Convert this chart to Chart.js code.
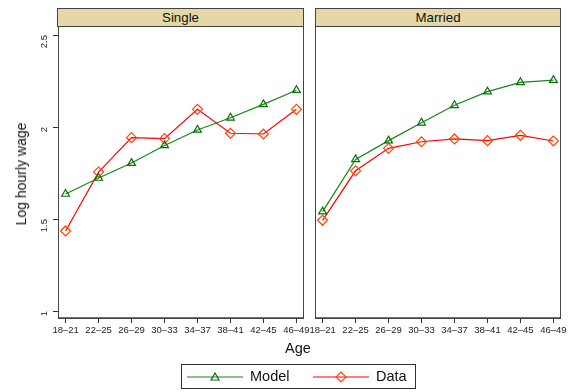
<!DOCTYPE html>
<html>
<head>
<meta charset="utf-8">
<script src="https://cdn.jsdelivr.net/npm/chart.js@4"></script>
<style>
  body { margin: 0; background: #fff; font-family: "Liberation Sans", Arial, sans-serif; }
  #wrap { position: relative; width: 574px; height: 392px; overflow: hidden; }
  canvas { position: absolute; }
  .header {
    position: absolute; top: 8px; height: 17px;
    background: #e3d8a6; border: 1px solid #444;
    text-align: center; font-size: 13.3px; line-height: 17px; color: #111;
  }
  .ytitle {
    position: absolute; left: 21px; top: 174px; font-size: 14px; color: #111;
    transform: translate(-50%, -50%) rotate(-90deg); white-space: nowrap;
  }
  .xtitle { position: absolute; left: 298px; top: 348px; font-size: 14.5px; color: #111; transform: translate(-50%, -50%); }
  .legend {
    position: absolute; left: 181px; top: 364px; width: 235px; height: 25px;
    border: 1px solid #333; box-sizing: border-box; font-size: 14.5px; color: #111;
  }
  .legend svg { position: absolute; top: 5px; }
  .legend span { position: absolute; top: 3px; }
</style>
</head>
<body>
<div id="wrap">
  <canvas id="singleChart" width="316" height="345" style="left:0;top:0;width:316px;height:345px"></canvas>
  <canvas id="marriedChart" width="274" height="345" style="left:300px;top:0;width:274px;height:345px"></canvas>
  <div class="header" style="left:57px;width:245px">Single</div>
  <div class="header" style="left:315px;width:244px">Married</div>
  <div class="ytitle">Log hourly wage</div>
  <div class="xtitle">Age</div>
  <div class="legend">
    <svg width="56" height="14" style="left:5px"><line x1="0" y1="7" x2="56" y2="7" stroke="#138a13" stroke-width="1.2"/><polygon points="28,3 32,10 24,10" fill="none" stroke="#0b6e0b" stroke-width="1.2"/></svg>
    <span style="left:68px">Model</span>
    <svg width="56" height="14" style="left:131px"><line x1="0" y1="7" x2="56" y2="7" stroke="#ff0000" stroke-width="1.2"/><polygon points="28,2 33,7 28,12 23,7" fill="none" stroke="#ff4500" stroke-width="1.2"/></svg>
    <span style="left:194px">Data</span>
  </div>
</div>
<script>
// Age groups on the x axis
const ageGroups = ['18–21', '22–25', '26–29', '30–33', '34–37', '38–41', '42–45', '46–49'];

// Log hourly wage, single
const singleModel = [1.636, 1.723, 1.804, 1.900, 1.984, 2.050, 2.123, 2.200];
const singleData = [1.435, 1.755, 1.942, 1.937, 2.096, 1.966, 1.962, 2.096];

// Log hourly wage, married
const marriedModel = [1.540, 1.824, 1.926, 2.023, 2.118, 2.192, 2.243, 2.255];
const marriedData = [1.493, 1.762, 1.884, 1.920, 1.935, 1.926, 1.955, 1.924];

const yTicks = [1, 1.5, 2, 2.5];

const tickFont = { family: '"Liberation Sans", Arial, sans-serif', size: 9.5 };

// Draw the plot region outline (Stata style box)
const framePlugin = {
  id: 'frame',
  beforeDatasetsDraw(chart) {
    const a = chart.chartArea;
    const ctx = chart.ctx;
    ctx.save();
    ctx.strokeStyle = '#444';
    ctx.lineWidth = 1;
    ctx.strokeRect(a.left + 0.5, a.top + 0.5, a.right - a.left - 1, a.bottom - a.top);
    ctx.lineWidth = 1.5;
    ctx.beginPath();
    ctx.moveTo(a.left, a.bottom);
    ctx.lineTo(a.right, a.bottom);
    ctx.stroke();
    ctx.restore();
  }
};

function toPoints(values) {
  return values.map((v, i) => ({ x: i, y: v }));
}

function makePanel(canvasId, model, data, showY, padding) {
  const ctx = document.getElementById(canvasId);
  return new Chart(ctx, {
    type: 'line',
    data: {
      datasets: [{
        label: 'Model',
        data: toPoints(model),
        borderColor: '#138a13',
        borderWidth: 1.2,
        pointStyle: 'triangle',
        pointRadius: 4.5,
        pointBorderColor: '#0b6e0b',
        pointBackgroundColor: 'rgba(255,255,255,0)',
        pointBorderWidth: 1.2,
        tension: 0
      }, {
        label: 'Data',
        data: toPoints(data),
        borderColor: '#ff0000',
        borderWidth: 1.2,
        pointStyle: 'rectRot',
        pointRadius: 5,
        pointBorderColor: '#ff4500',
        pointBackgroundColor: 'rgba(255,255,255,0)',
        pointBorderWidth: 1.2,
        tension: 0
      }]
    },
    options: {
      responsive: false,
      animation: false,
      layout: { padding: padding },
      plugins: {
        legend: { display: false },
        tooltip: { enabled: false }
      },
      scales: {
        x: {
          type: 'linear',
          min: -0.23,
          max: 7.23,
          afterBuildTicks: axis => { axis.ticks = ageGroups.map((_, i) => ({ value: i })); },
          afterFit: axis => { axis.height = 27; },
          grid: { drawOnChartArea: false, tickLength: 5, color: '#333', tickColor: '#333' },
          border: { display: false },
          ticks: {
            autoSkip: false,
            maxRotation: 0,
            padding: 2,
            color: '#222',
            font: tickFont,
            callback: v => ageGroups[v]
          }
        },
        y: {
          display: showY,
          min: 0.962,
          max: 2.549,
          afterBuildTicks: axis => { axis.ticks = yTicks.map(v => ({ value: v })); },
          afterFit: axis => { axis.width = showY ? 58 : 0; },
          grid: { drawOnChartArea: false, tickLength: 5, color: '#333', tickColor: '#333' },
          border: { display: false },
          ticks: {
            minRotation: 90,
            maxRotation: 90,
            padding: 9,
            color: '#222',
            font: tickFont,
            callback: v => String(v)
          }
        }
      }
    },
    plugins: [framePlugin]
  });
}

makePanel('singleChart', singleModel, singleData, true, { top: 26, right: 12, left: 0, bottom: 0 });
makePanel('marriedChart', marriedModel, marriedData, false, { top: 26, right: 13, left: 15, bottom: 0 });
</script>
</body>
</html>
